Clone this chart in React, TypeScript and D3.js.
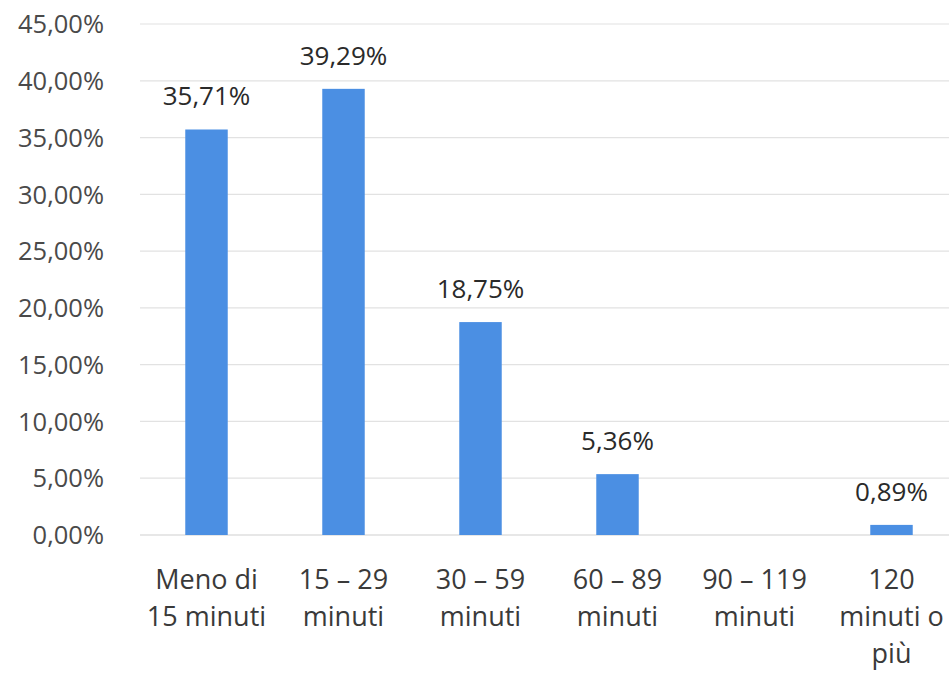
import React from "react";
import * as d3 from "d3";

const categories: string[][] = [
  ["Meno di", "15 minuti"],
  ["15 – 29", "minuti"],
  ["30 – 59", "minuti"],
  ["60 – 89", "minuti"],
  ["90 – 119", "minuti"],
  ["120", "minuti o", "più"],
];
const values: number[] = [35.71, 39.29, 18.75, 5.36, 0, 0.89];
const yTicks: number[] = [0, 5, 10, 15, 20, 25, 30, 35, 40, 45];

const W = 949;
const H = 675;
const FONT = "'Open Sans', Lato, sans-serif";

const fmt = (v: number) => v.toFixed(2).replace(".", ",") + "%";

export default function App() {
  const x = d3
    .scaleBand<number>()
    .domain(d3.range(categories.length))
    .range([138, 960])
    .paddingInner(0.69)
    .paddingOuter(0.345);
  const y = d3.scaleLinear().domain([0, 45]).range([535, 24]);

  return (
    <svg
      width={W}
      height={H}
      style={{ position: "absolute", left: 0, top: 0, background: "#fff" }}
      fontFamily={FONT}
    >
      {yTicks.map((t) => (
        <g key={t}>
          <line
            x1={140}
            x2={W}
            y1={y(t)}
            y2={y(t)}
            stroke={t === 0 ? "#cfcfcf" : "#e2e2e2"}
            strokeWidth={1.2}
          />
          <text
            x={104}
            y={y(t)}
            dy="0.36em"
            textAnchor="end"
            fontSize={25.5}
            fill="#4a4a4a"
          >
            {fmt(t)}
          </text>
        </g>
      ))}
      {values.map((v, i) => {
        const bx = x(i)!;
        const cx = bx + x.bandwidth() / 2;
        return (
          <g key={i}>
            {v > 0 && (
              <rect
                x={bx}
                y={y(v)}
                width={x.bandwidth()}
                height={y(0) - y(v)}
                fill="#4B8FE3"
              />
            )}
            {v > 0 && (
              <text
                x={cx}
                y={y(v) - 24}
                textAnchor="middle"
                fontSize={26}
                fill="#2a2a2a"
              >
                {fmt(v)}
              </text>
            )}
            <text
              x={cx}
              y={589}
              textAnchor="middle"
              fontSize={27}
              fill="#3a3a3a"
            >
              {categories[i].map((line, k) => (
                <tspan key={k} x={cx} dy={k === 0 ? 0 : 37}>
                  {line}
                </tspan>
              ))}
            </text>
          </g>
        );
      })}
    </svg>
  );
}
